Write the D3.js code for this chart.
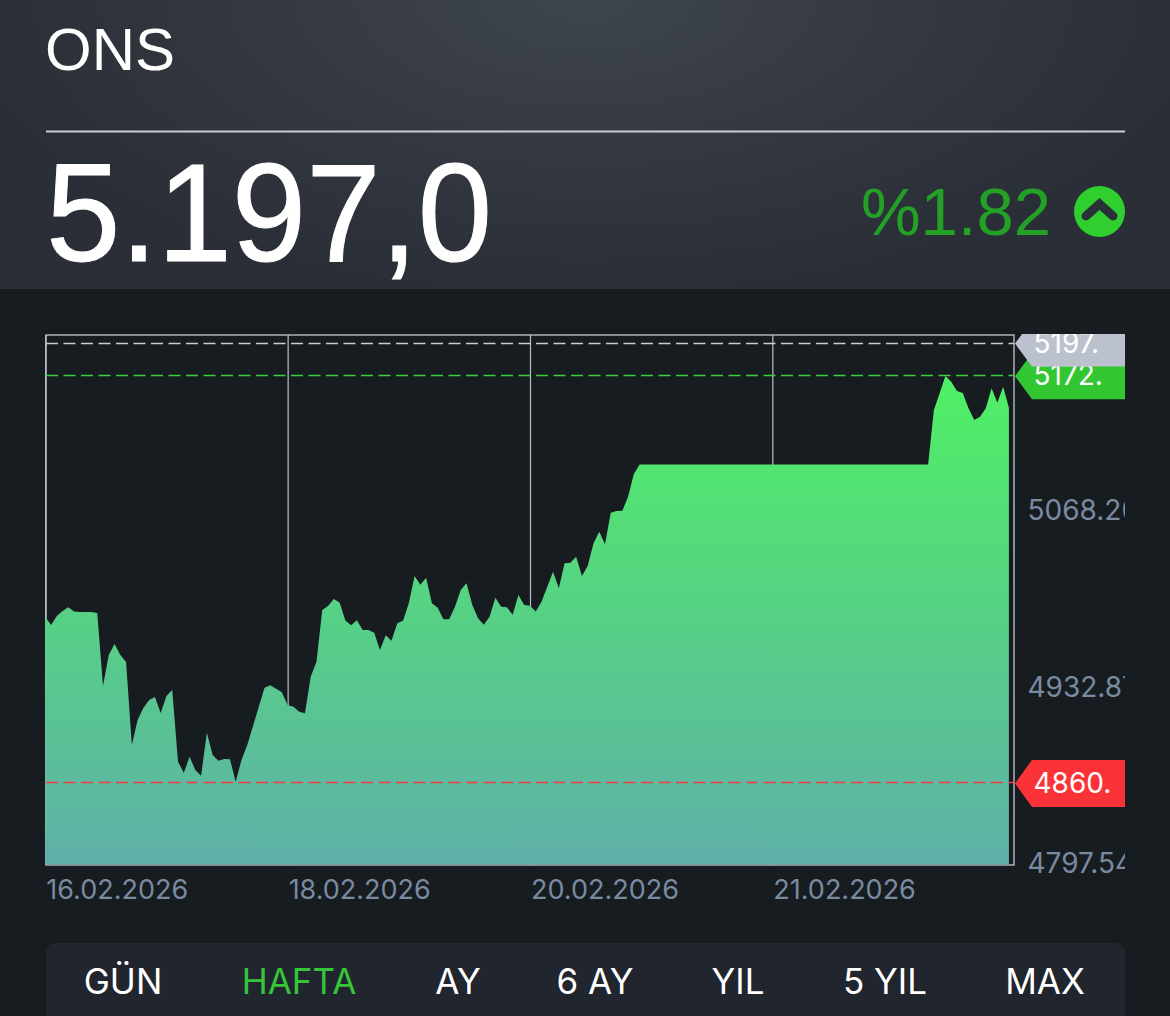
<!DOCTYPE html>
<html>
<head>
<meta charset="utf-8">
<title>ONS</title>
<script src="https://cdn.jsdelivr.net/npm/d3@7"></script>
<style>
  html, body { margin: 0; padding: 0; background: #171c20; overflow: hidden; }
  svg { display: block; }
  text { font-family: Inter, "Liberation Sans", sans-serif; }
  .big { font-family: "Liberation Sans", sans-serif; }
</style>
</head>
<body>
<div id="d3-container"></div>
<script>
/**
 * DATA
 * */
const title = "ONS";
const lastPrice = "5.197,0";
const changeText = "%1.82";

const prices = [
  4987.5, 4981.4, 4988.3, 4992.1, 4994.9, 4991.7, 4991.3, 4991.3, 4991.3, 4990.6,
  4934.6, 4958.4, 4966.8, 4958.4, 4953.0, 4889.5, 4908.6, 4917.8, 4923.9, 4926.2,
  4914.0, 4927.0, 4931.6, 4876.7, 4868.0, 4880.5, 4870.3, 4866.0, 4898.9, 4881.8,
  4877.4, 4878.7, 4878.5, 4861.3, 4878.0, 4889.5, 4904.0, 4918.8, 4933.3, 4935.2,
  4932.6, 4929.8, 4919.9, 4918.8, 4915.0, 4913.7, 4941.8, 4953.2, 4992.9, 4995.9,
  5001.3, 4998.6, 4984.8, 4981.1, 4985.0, 4977.5, 4977.5, 4975.5, 4962.2, 4973.5,
  4969.3, 4982.7, 4984.7, 4998.0, 5018.9, 5012.3, 5017.6, 4998.0, 4994.6, 4985.7,
  4985.7, 4995.4, 5008.2, 5013.3, 4996.7, 4986.5, 4981.6, 4987.7, 5002.3, 4995.4,
  4994.9, 4989.2, 5004.3, 4996.7, 4996.2, 4991.8, 4999.2, 5010.7, 5022.2, 5009.5,
  5028.6, 5029.1, 5033.7, 5018.9, 5026.5, 5043.9, 5052.8, 5043.2, 5067.4, 5068.7,
  5068.9, 5079.6, 5097.0, 5104.4, 5104.4, 5104.4, 5104.4, 5104.4, 5104.4, 5104.4,
  5104.4, 5104.4, 5104.4, 5104.4, 5104.4, 5104.4, 5104.4, 5104.4, 5104.4, 5104.4,
  5104.4, 5104.4, 5104.4, 5104.4, 5104.4, 5104.4, 5104.4, 5104.4, 5104.4, 5104.4,
  5104.4, 5104.4, 5104.4, 5104.4, 5104.4, 5104.4, 5104.4, 5104.4, 5104.4, 5104.4,
  5104.4, 5104.4, 5104.4, 5104.4, 5104.4, 5104.4, 5104.4, 5104.4, 5104.4, 5104.4,
  5104.4, 5104.4, 5104.4, 5104.4, 5146.1, 5158.9, 5172.1, 5167.8, 5160.6, 5159.1,
  5147.4, 5138.4, 5140.9, 5147.4, 5162.7, 5151.7, 5163.9, 5147.8
];

// x axis: a date label every 42 points
const dateIndexes = [0, 42, 84, 126];
const dateLabels = ["16.02.2026", "18.02.2026", "20.02.2026", "21.02.2026"];

// y axis
const yDomain = [4797.54, 5203.53];
const yTicks = [4797.54, 4932.87, 5068.20];

// price tags: last, high, low
const levelNames = ["last", "high", "low"];
const levelValues = [5197, 5172, 4860];
const levelLabels = ["5197.", "5172.", "4860."];

const tabs = ["GÜN", "HAFTA", "AY", "6 AY", "YIL", "5 YIL", "MAX"];
const activeTab = "HAFTA";
const tabCenters = [123, 299, 458, 595, 738, 885, 1045];

/**
 * CONSTANTS
 * */
const width = 1170, height = 1016;
const plot = { left: 46, right: 1014, top: 335, bottom: 865 };
const clipRight = 1125;

const svg = d3.select("#d3-container").append("svg")
  .attr("width", width)
  .attr("height", height);

const defs = svg.append("defs");

const headGrad = defs.append("radialGradient")
  .attr("id", "head-grad")
  .attr("gradientUnits", "userSpaceOnUse")
  .attr("cx", 585).attr("cy", 0).attr("r", 620)
  .attr("gradientTransform", "translate(585 0) scale(1 0.47) translate(-585 0)");
headGrad.append("stop").attr("offset", 0).attr("stop-color", "#3f454c");
headGrad.append("stop").attr("offset", 1).attr("stop-color", "#2a2e37");

const areaGrad = defs.append("linearGradient")
  .attr("id", "area-grad")
  .attr("gradientUnits", "userSpaceOnUse")
  .attr("x1", 0).attr("x2", 0).attr("y1", 376).attr("y2", plot.bottom);
areaGrad.append("stop").attr("offset", 0).attr("stop-color", "#4ff064");
areaGrad.append("stop").attr("offset", 1).attr("stop-color", "#5eb0a8");

// side labels are cut off at the edge of their column
defs.append("clipPath").attr("id", "side-clip").append("rect")
  .attr("x", plot.right).attr("y", plot.top - 1)
  .attr("width", clipRight - plot.right).attr("height", 560);

/**
 * HEADER
 * */
svg.append("rect").attr("width", width).attr("height", 289).attr("fill", "url(#head-grad)");

svg.append("text").attr("class", "big")
  .attr("x", 45).attr("y", 70)
  .attr("font-size", 60).attr("fill", "#fff")
  .text(title);

svg.append("line")
  .attr("x1", 46).attr("x2", clipRight).attr("y1", 131.5).attr("y2", 131.5)
  .attr("stroke", "#c9ccd1").attr("stroke-width", 2);

svg.append("text").attr("class", "big")
  .attr("x", 46).attr("y", 261)
  .attr("font-size", 140).attr("fill", "#fff")
  .attr("textLength", 446).attr("lengthAdjust", "spacingAndGlyphs")
  .attr("stroke", "#fff").attr("stroke-width", 1)
  .text(lastPrice);

svg.append("text").attr("class", "big")
  .attr("x", 1051).attr("y", 235)
  .attr("text-anchor", "end")
  .attr("font-size", 67).attr("fill", "#23a127")
  .text(changeText);

svg.append("circle").attr("cx", 1099.5).attr("cy", 211.5).attr("r", 25.5).attr("fill", "#2ecf2e");
svg.append("path")
  .attr("d", d3.line()([[1086, 216], [1099.5, 204], [1113, 216]]))
  .attr("fill", "none").attr("stroke", "#2b2f38")
  .attr("stroke-width", 9).attr("stroke-linecap", "round").attr("stroke-linejoin", "miter");

/**
 * SCALES
 * */
const x = d3.scaleLinear().domain([0, prices.length - 1]).range([45.3, 1008.9]);
const y = d3.scaleLinear().domain(yDomain).range([plot.bottom, plot.top]);

/**
 * CHART
 * */
// vertical grid lines + date labels
const xAxis = d3.axisBottom(x)
  .tickValues(dateIndexes)
  .tickSize(plot.top - plot.bottom)
  .tickFormat((d, i) => dateLabels[i]);

const xG = svg.append("g")
  .attr("transform", `translate(0,${plot.bottom})`)
  .call(xAxis);
xG.select(".domain").remove();
xG.selectAll("line").attr("stroke", "#b9bec9").attr("stroke-width", 1.2);
xG.selectAll("text")
  .attr("text-anchor", "start")
  .attr("dx", 0.5)
  .attr("y", 15)
  .attr("font-size", 27)
  .attr("font-family", "Inter")
  .attr("fill", "#7a8aa0");

// frame
svg.append("rect")
  .attr("x", plot.left).attr("y", plot.top)
  .attr("width", plot.right - plot.left).attr("height", plot.bottom - plot.top)
  .attr("fill", "none").attr("stroke", "#c3c8d2").attr("stroke-width", 1.3);

const area = d3.area()
  .x((d, i) => x(i))
  .y0(plot.bottom - 0.5)
  .y1(d => y(d));

svg.append("path")
  .datum(prices)
  .attr("d", area)
  .attr("fill", "url(#area-grad)");

// y axis labels
const yAxis = d3.axisRight(y)
  .tickValues(yTicks)
  .tickSize(0)
  .tickPadding(0)
  .tickFormat(d3.format(".2f"));

const yG = svg.append("g")
  .attr("clip-path", "url(#side-clip)")
  .append("g")
  .attr("transform", `translate(1027.5,-1)`)
  .call(yAxis);
yG.select(".domain").remove();
yG.selectAll("text")
  .attr("font-size", 28)
  .attr("font-family", "Inter")
  .attr("fill", "#7a8aa0");

// dashed level lines and their tags
const levelColor = d3.scaleOrdinal().domain(levelNames).range(["#bcc2cd", "#33c633", "#fb3338"]);
const lineColor = d3.scaleOrdinal().domain(levelNames).range(["#c8ccd3", "#38d042", "#ee3f45"]);
const tagHalf = d3.scaleOrdinal().domain(levelNames).range([23, 23, 23.5]);

// high tag goes under the last tag, low is on its own
const levelOrder = [1, 0, 2];

const levels = svg.selectAll("g.level")
  .data(levelOrder)
  .join("g")
  .attr("class", "level");

const lineY = i => Math.floor(y(levelValues[i]) - 0.5) + 0.5;

levels.append("line")
  .attr("x1", plot.left).attr("x2", plot.right)
  .attr("y1", lineY).attr("y2", lineY)
  .attr("stroke", i => lineColor(levelNames[i]))
  .attr("stroke-width", 1.3)
  .attr("stroke-dasharray", "12 5.5");

const tags = levels.append("g").attr("clip-path", "url(#side-clip)");

tags.append("path")
  .attr("fill", i => levelColor(levelNames[i]))
  .attr("d", i => {
    const c = y(levelValues[i]), h = tagHalf(levelNames[i]);
    return d3.line()([[1015, c], [1032, c - h], [clipRight, c - h], [clipRight, c + h], [1032, c + h]]) + "Z";
  });

tags.append("text")
  .attr("x", 1033.5)
  .attr("y", i => y(levelValues[i]) - 1)
  .attr("dy", "0.36em")
  .attr("font-size", 28)
  .attr("fill", "#fff")
  .text(i => levelLabels[i]);

/**
 * TABS
 * */
svg.append("rect")
  .attr("x", 46).attr("y", 943)
  .attr("width", clipRight - 46).attr("height", 90)
  .attr("rx", 9)
  .attr("fill", "#21252d");

svg.selectAll("text.tab")
  .data(tabs)
  .join("text")
  .attr("class", "tab")
  .attr("x", (d, i) => tabCenters[i])
  .attr("y", 994)
  .attr("text-anchor", "middle")
  .attr("font-size", 35)
  .attr("fill", d => d === activeTab ? "#36c43a" : "#fff")
  .text(d => d);
</script>
</body>
</html>
